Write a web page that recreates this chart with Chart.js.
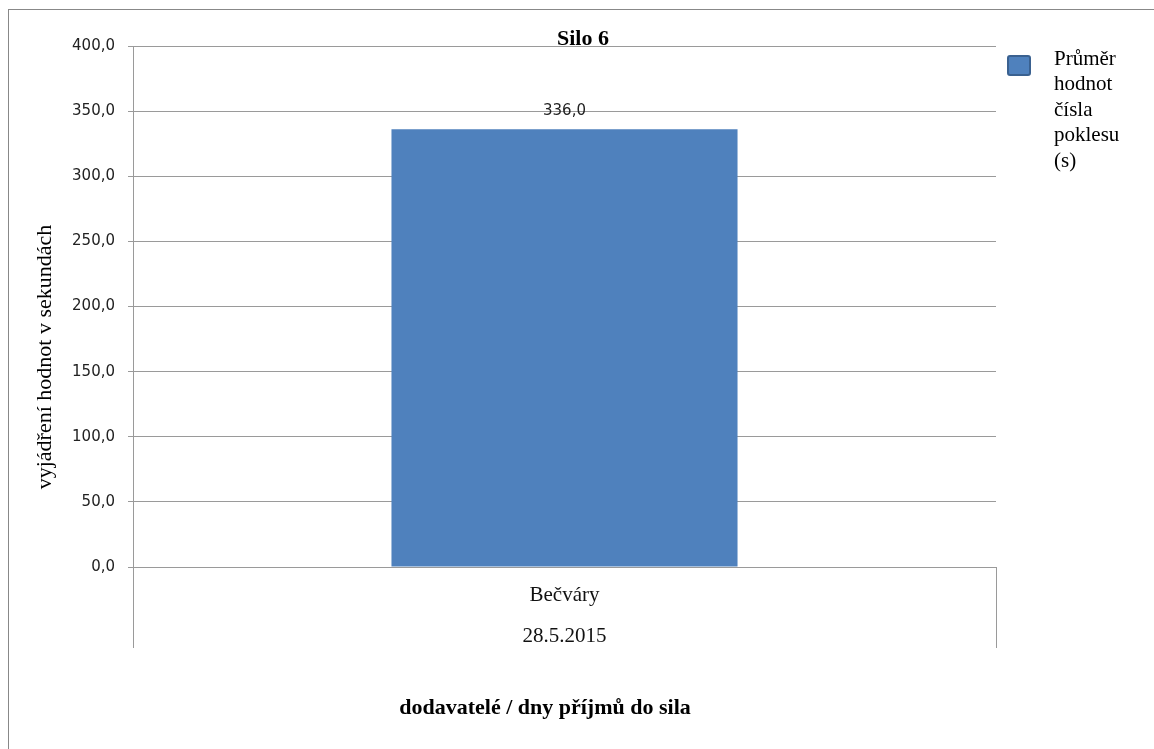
<!DOCTYPE html>
<html lang="cs">
  <head>
    <meta charset="UTF-8" />
    <script src="https://cdn.jsdelivr.net/npm/chart.js"></script>
    <style>
      body {
        margin: 0;
        background: #ffffff;
      }
      #wrap {
        position: relative;
        width: 1154px;
        height: 749px;
      }
    </style>
  </head>
  <body>
    <div id="wrap">
      <canvas id="siloChart"></canvas>
    </div>

    <script>
      // data
      const suppliers = ["Bečváry"];
      const receiptDates = ["28.5.2015"];
      const averageDrop = [336.0];
      const seriesName = "Průměr hodnot čísla poklesu (s)";
      const chartTitle = "Silo 6";
      const yTitle = "vyjádření hodnot v sekundách";
      const xTitle = "dodavatelé / dny příjmů do sila";
      const yMin = 0;
      const yMax = 400;
      const yStep = 50;

      const serif = "'Liberation Serif', 'Times New Roman', serif";
      const sans = "'DejaVu Sans', sans-serif";
      const gridColor = "#9a9a9a";
      const barColor = "#4f81bd";

      const labels = suppliers.map((s, i) => [s, receiptDates[i]]);
      const fmt = (v) => v.toFixed(1).replace(".", ",");

      // border, titles, legend and value labels
      const extras = {
        id: "extras",
        beforeDraw(chart) {
          const c = chart.ctx;
          c.save();
          c.strokeStyle = "#888888";
          c.lineWidth = 1;
          c.strokeRect(8.5, 9.5, 1200, 800);
          c.restore();
        },
        afterDraw(chart) {
          const c = chart.ctx;
          c.save();
          c.fillStyle = "#000";

          // chart title
          c.font = "bold 22px " + serif;
          c.textAlign = "center";
          c.textBaseline = "alphabetic";
          c.fillText(chartTitle, 583, 45);

          // x axis title
          c.fillText(xTitle, 545, 714);

          // y axis title
          c.font = "22px " + serif;
          c.translate(45, 357);
          c.rotate(-Math.PI / 2);
          c.textBaseline = "middle";
          c.fillText(yTitle, 0, 0);
          c.setTransform(1, 0, 0, 1, 0, 0);

          // value labels
          const meta = chart.getDatasetMeta(0);
          c.font = "15px " + sans;
          c.fillStyle = "#222";
          c.textAlign = "center";
          c.textBaseline = "middle";
          meta.data.forEach((bar, i) => {
            c.fillText(fmt(averageDrop[i]), bar.x, bar.y - 18);
          });

          // legend
          c.fillStyle = barColor;
          c.strokeStyle = "#3a6190";
          c.lineWidth = 2;
          c.beginPath();
          c.roundRect(1008, 56, 22, 19, 2);
          c.fill();
          c.stroke();
          c.fillStyle = "#000";
          c.font = "21px " + serif;
          c.textAlign = "left";
          c.textBaseline = "middle";
          seriesName.split(" ").forEach((w, i) => {
            c.fillText(w, 1054, 59 + i * 25.5);
          });
          c.restore();
        },
      };

      const ctx = document.getElementById("siloChart").getContext("2d");
      const siloChart = new Chart(ctx, {
        type: "bar",
        data: {
          labels: labels,
          datasets: [
            {
              label: seriesName,
              data: averageDrop,
              backgroundColor: barColor,
              borderWidth: 0,
              categoryPercentage: 1,
              barPercentage: 0.401,
            },
          ],
        },
        options: {
          responsive: true,
          maintainAspectRatio: false,
          animation: false,
          layout: {
            padding: { left: 0, top: 46, right: 158, bottom: 0 },
          },
          plugins: {
            legend: { display: false },
            title: { display: false },
            tooltip: { enabled: false },
          },
          scales: {
            x: {
              afterFit: (scale) => {
                scale.height = 182;
              },
              grid: {
                offset: true,
                drawOnChartArea: false,
                drawTicks: true,
                tickLength: 81,
                color: gridColor,
              },
              border: { display: true, color: gridColor },
              ticks: {
                color: "#111",
                padding: -73.5,
                font: { family: serif, size: 21, lineHeight: 41 / 21 },
              },
            },
            y: {
              min: yMin,
              max: yMax,
              afterFit: (scale) => {
                scale.width = 133;
              },
              grid: {
                color: gridColor,
                tickLength: 5,
              },
              border: { display: true, color: gridColor },
              ticks: {
                stepSize: yStep,
                padding: 13,
                color: "#222",
                font: { family: sans, size: 15 },
                callback: (v) => fmt(v),
              },
            },
          },
        },
        plugins: [extras],
      });
    </script>
  </body>
</html>
